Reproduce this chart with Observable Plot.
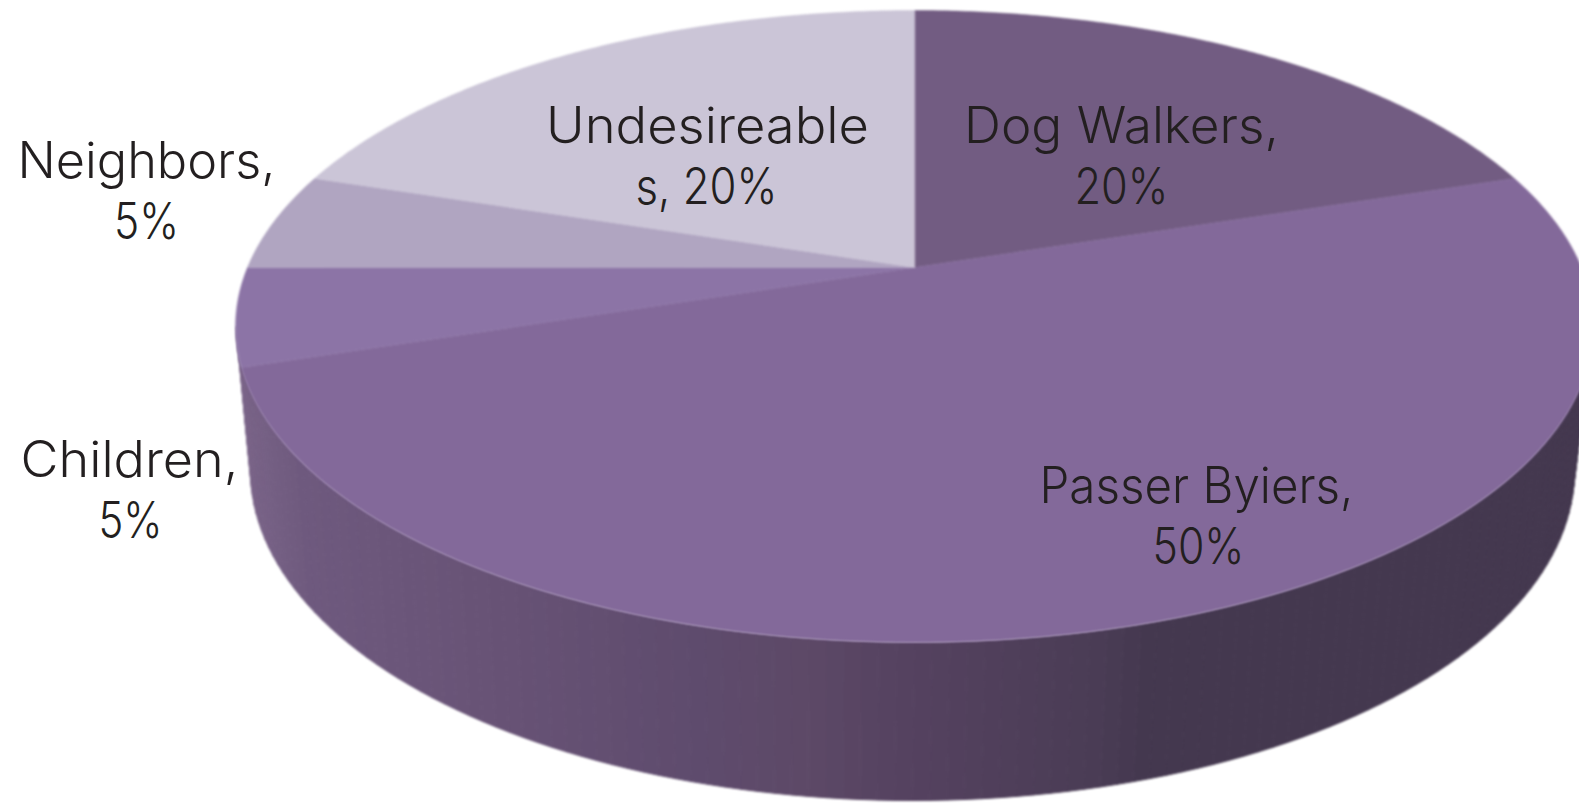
<!DOCTYPE html>
<html>
<head>
<meta charset="utf-8">
<script src="https://cdn.jsdelivr.net/npm/d3@7"></script>
<script src="https://cdn.jsdelivr.net/npm/@observablehq/plot@0.6"></script>
<style>
html,body{margin:0;padding:0;background:#fff;overflow:hidden}
svg{display:block}
g[aria-label="line"]{filter:blur(0.8px)}
</style>
</head>
<body>
<div id="chart"></div>
<script>
const categories = ["Dog Walkers","Passer Byiers","Children","Neighbors","Undesireable"];
const shares = [20,50,5,5,20];
const sliceColors = ["#725c82","#83699a","#8c74a6","#b0a5c1","#cbc5d7"];
const labelLines = ["Dog Walkers,","20%","Passer Byiers,","50%","Children,","5%","Neighbors,","5%","Undesireable","s, 20%"];
const sideX = [235,300,500,700,800,900,1100,1150,1585];
const sideColors = ["#7a6488","#6e597e","#675275","#5e4b6d","#5d4967","#554260","#4a3c55","#44384f","#44384f"];

const labelPlacement = {
  x: [1121,1121,1196,1198,129,130,146,146,707,706],
  baseline: [142,203,502,563,476,537,177,238,142,203],
  width: [315,94,314,92,218,64,258,65,323,142]
};

// Perspective view of the pie's top face
const topPoint = (a) => {
  const ux = Math.sin(a), uy = -Math.cos(a), d = 1 - 0.1867 * uy;
  return {x: 914 + 667 * ux / d, y: 267 + 305 * uy / d};
};
const pieArcs = d3.pie().sort(null)(shares);
const sliceRows = pieArcs.flatMap((arc, i) => {
  const n = Math.ceil((arc.endAngle - arc.startAngle) * 120);
  const rim = d3.range(n + 1).map(k => topPoint(arc.startAngle + (arc.endAngle - arc.startAngle) * k / n));
  return [{x: 914, y: 267}, ...rim].map(p => ({...p, name: categories[i], color: sliceColors[i]}));
});

// Side wall between upper rim and lower rim
const sideColor = d3.scaleLinear().domain(sideX).range(sideColors);
const upper = (p) => ({x: 914 + 678 * Math.cos(p), y: 326 + 316 * Math.sin(p)});
const lower = (p) => ({x: 912 + 662 * Math.cos(p), y: 470 + 330 * Math.sin(p)});
const step = Math.PI / 180 * 1.5;
const sideRows = d3.range(0, Math.PI, step).flatMap((p, i) => {
  const q = Math.min(p + step, Math.PI);
  const col = sideColor(upper((p + q) / 2).x);
  return [upper(p), upper(q), lower(q), lower(p)].map(v => ({...v, strip: i, color: col}));
});

const labels = labelLines.map((text, i) => ({text, x: labelPlacement.x[i], y: labelPlacement.baseline[i] - 16}));

const chart = Plot.plot({
  width: 1579, height: 805, margin: 0,
  x: {domain: [0, 1579], range: [0, 1579], axis: null},
  y: {domain: [0, 805], range: [0, 805], axis: null},
  color: {type: "identity"},
  style: {background: "#fff", overflow: "hidden"},
  marks: [
    Plot.line(sideRows, {x: "x", y: "y", z: "strip", fill: "color", stroke: "color", strokeWidth: 1, curve: "linear-closed"}),
    Plot.line(sliceRows, {x: "x", y: "y", z: "name", fill: "color", stroke: "color", strokeWidth: 0.5, curve: "linear-closed"}),
    Plot.text(labels, {x: "x", y: "y", text: "text", textAnchor: "middle", lineAnchor: "middle",
      fontSize: 50, fontFamily: "Inter", fontWeight: 300, fill: "#231f20"})
  ]
});
// Fit each label line to the width it has in the picture
d3.select(chart).selectAll('g[aria-label="text"] text').each(function (_, i) {
  this.setAttribute("textLength", labelPlacement.width[i]);
  this.setAttribute("lengthAdjust", "spacingAndGlyphs");
});
document.getElementById("chart").append(chart);
</script>
</body>
</html>
